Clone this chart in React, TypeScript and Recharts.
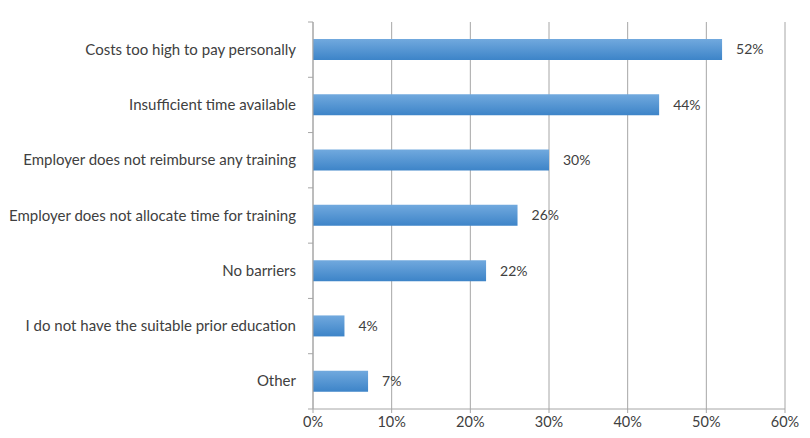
import React from "react"
import { BarChart, Bar, XAxis, YAxis, CartesianGrid, LabelList } from "recharts"

const categories = [
  "Costs too high to pay personally",
  "Insufficient time available",
  "Employer does not reimburse any training",
  "Employer does not allocate time for training",
  "No barriers",
  "I do not have the suitable prior education",
  "Other",
]
const shares = [52, 44, 30, 26, 22, 4, 7]
const xTicks = [0, 10, 20, 30, 40, 50, 60]

const data = categories.map((name, i) => ({ name, value: shares[i] }))

const FONT = "Lato, 'Open Sans', sans-serif"
const TEXT = "#404040"
const GRID = "#a6a6a6"
const BAND = 387 / categories.length

// category label plus Excel-style tick marks on the band edges
function CategoryTick(props: any) {
  const { x, y, payload, index } = props
  const axisX = x + 17
  const marks = [y + BAND / 2]
  if (index === 0) marks.push(y - BAND / 2)
  return (
    <g>
      {marks.map((my, k) => (
        <line key={k} x1={axisX - 5} x2={axisX} y1={my} y2={my} stroke={GRID} />
      ))}
      <text x={x} y={y} dy={5} textAnchor="end" fill={TEXT} fontSize={15} fontFamily={FONT}>
        {payload.value}
      </text>
    </g>
  )
}

export default function App() {
  return (
    <BarChart
      width={802}
      height={430}
      layout="vertical"
      data={data}
      margin={{ top: 14, right: 25, left: 0, bottom: 0 }}
    >
      <defs>
        <linearGradient id="barFill" x1="0" y1="0" x2="0" y2="1">
          <stop offset="0%" stopColor="#71a9de" />
          <stop offset="100%" stopColor="#3d84c8" />
        </linearGradient>
      </defs>
      <CartesianGrid horizontal={false} stroke={GRID} />
      <XAxis
        type="number"
        domain={[0, 60]}
        ticks={xTicks}
        tickFormatter={(v) => `${v}%`}
        height={29}
        tickSize={4}
        tickMargin={4}
        stroke={GRID}
        tick={{ fill: TEXT, fontSize: 14.5, fontFamily: FONT }}
      />
      <YAxis
        type="category"
        dataKey="name"
        width={305}
        tickLine={false}
        tickSize={5}
        tickMargin={12}
        stroke={GRID}
        interval={0}
        tick={<CategoryTick />}
      />
      <Bar dataKey="value" fill="url(#barFill)" barSize={21} isAnimationActive={false}>
        <LabelList
          dataKey="value"
          position="right"
          offset={14}
          formatter={(v: any) => `${v}%`}
          fill={TEXT}
          fontSize={14}
          fontFamily={FONT}
        />
      </Bar>
    </BarChart>
  )
}
